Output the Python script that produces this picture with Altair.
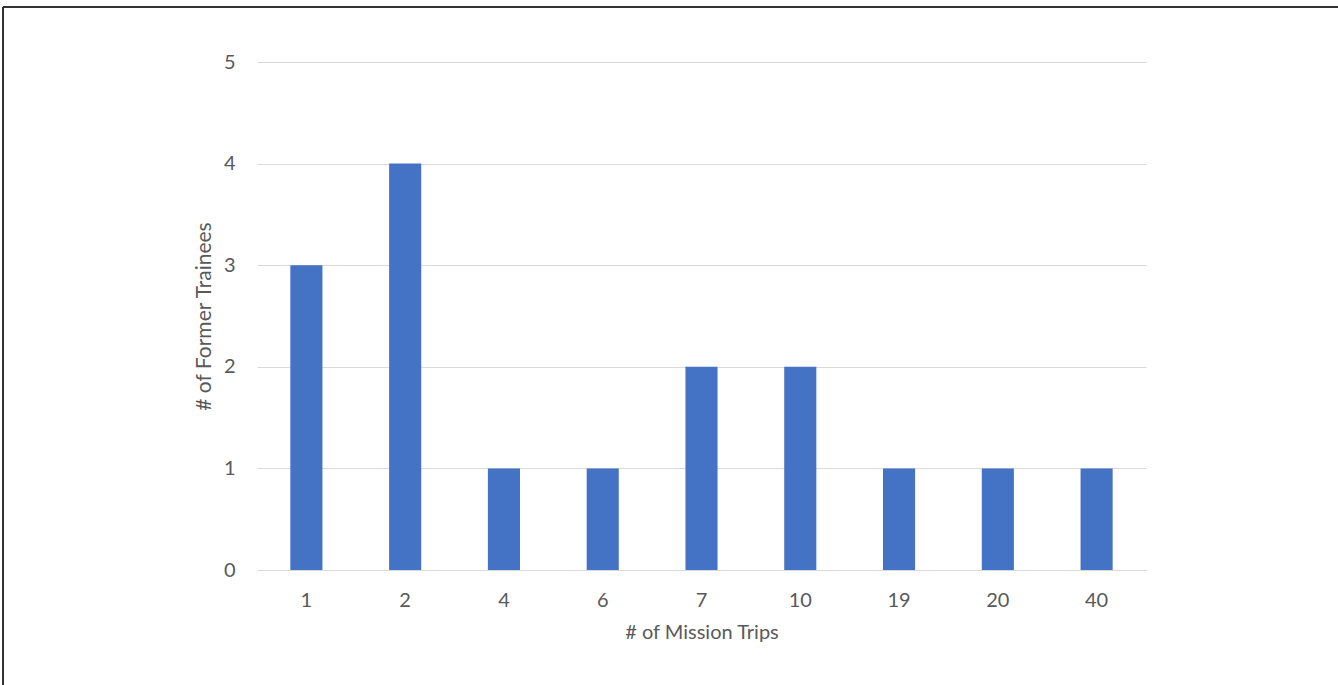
import altair as alt
import pandas as pd

trips = ["1", "2", "4", "6", "7", "10", "19", "20", "40"]
trainees = [3, 4, 1, 1, 2, 2, 1, 1, 1]

df = pd.DataFrame({"trips": trips, "trainees": trainees})

FONT = "Lato"
GRAY = "#595959"
FS = 20

bars = alt.Chart(df).mark_bar(color="#4472C4").encode(
    x=alt.X(
        "trips:N",
        sort=trips,
        scale=alt.Scale(paddingInner=0.675, paddingOuter=0.3375),
        axis=alt.Axis(
            title="# of Mission Trips",
            labelAngle=0,
            ticks=False,
            grid=False,
            domainColor="#d9d9d9",
            domainWidth=1,
            labelPadding=20,
            titlePadding=12,
            labelFontSize=FS,
            titleFontSize=FS,
            labelColor=GRAY,
            titleColor=GRAY,
            labelFont=FONT,
            titleFont=FONT,
            titleFontWeight="normal",
        ),
    ),
    y=alt.Y(
        "trainees:Q",
        scale=alt.Scale(domain=[0, 5], nice=False),
        axis=alt.Axis(
            title="# of Former Trainees",
            values=[0, 1, 2, 3, 4, 5],
            format="d",
            ticks=False,
            domain=False,
            gridColor="#d9d9d9",
            labelPadding=22,
            titlePadding=9,
            labelFontSize=FS,
            titleFontSize=21,
            labelColor=GRAY,
            titleColor=GRAY,
            labelFont=FONT,
            titleFont=FONT,
            titleFontWeight="normal",
        ),
    ),
)

one = pd.DataFrame({"k": [0]})
top_line = alt.Chart(one).mark_rule(color="#333333", strokeWidth=2).encode(
    x=alt.value(-254), x2=alt.value(1338 - 257), y=alt.value(7 - 62)
)
left_line = alt.Chart(one).mark_rule(color="#333333", strokeWidth=2).encode(
    x=alt.value(3 - 257), y=alt.value(7 - 62), y2=alt.value(685 - 62)
)

chart = (
    alt.layer(bars, top_line, left_line)
    .properties(
        width=889,
        height=508,
        autosize=alt.AutoSizeParams(type="none"),
        padding={"left": 257, "top": 62, "right": 192, "bottom": 115},
        view=alt.ViewBackground(stroke="transparent", strokeWidth=0),
    )
    .configure_view(strokeWidth=0, stroke="transparent")
    .configure(background="white")
)

chart.save("out.html", embed_options={"renderer": "svg", "actions": False})
